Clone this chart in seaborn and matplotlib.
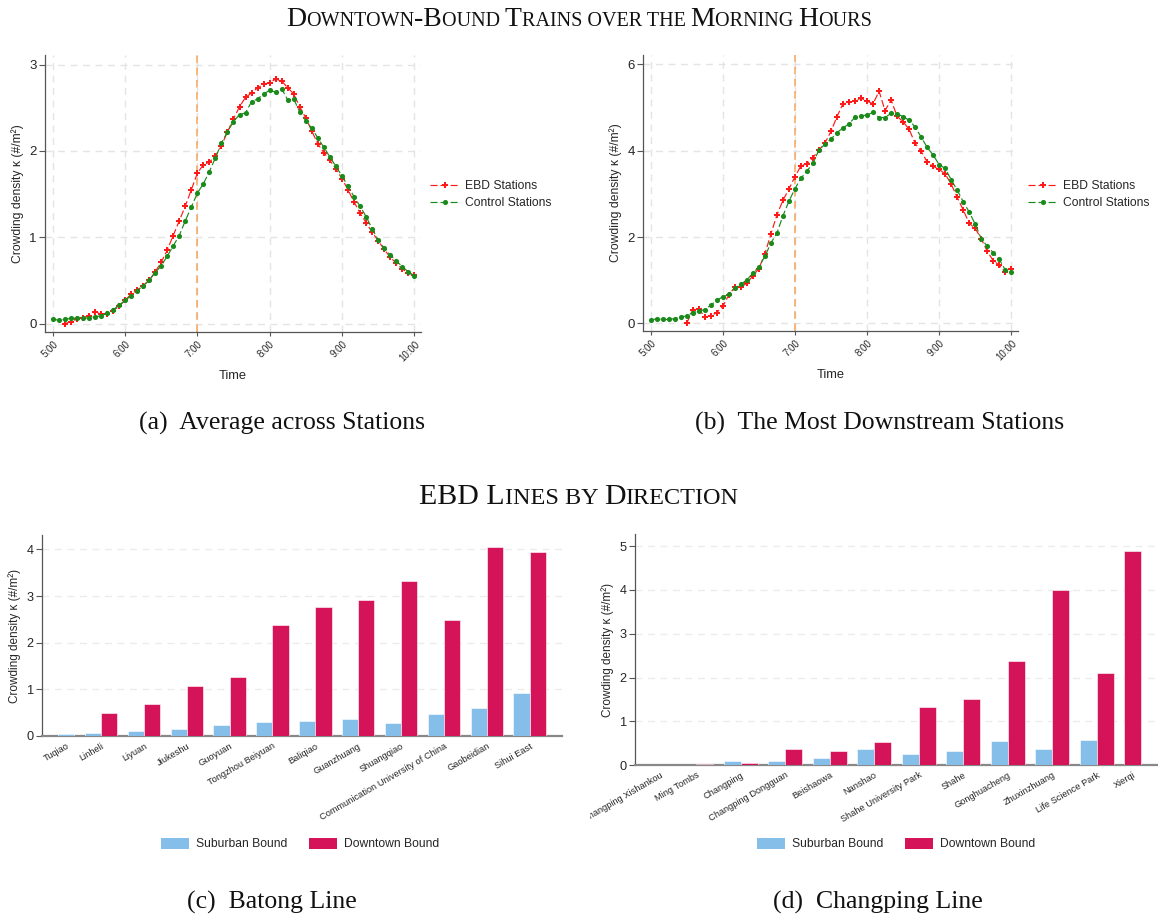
import numpy as np
import pandas as pd
import matplotlib
matplotlib.use("Agg")
import matplotlib.pyplot as plt
import seaborn as sns
from matplotlib.offsetbox import TextArea, HPacker, AnchoredOffsetbox
from matplotlib.lines import Line2D
from matplotlib.patches import Patch
from matplotlib.transforms import Bbox, TransformedBbox

nan = np.nan

# ---------------- data ----------------
minutes = list(range(0, 301, 5))          # minutes after 5:00
time_ticks = [0, 60, 120, 180, 240, 300]
time_labels = ["5:00", "6:00", "7:00", "8:00", "9:00", "10:00"]
treat_minute = 120                        # 7:00

avg_ebd = [nan, nan, 0.00, 0.02, 0.05, 0.07, 0.09, 0.14, 0.11, 0.11, 0.15, 0.20,
           0.27, 0.34, 0.39, 0.44, 0.50, 0.60, 0.71, 0.85, 1.02, 1.19, 1.36, 1.55,
           1.74, 1.84, 1.87, 1.94, 2.06, 2.22, 2.37, 2.51, 2.62, 2.67, 2.73, 2.77,
           2.79, 2.83, 2.81, 2.73, 2.66, 2.51, 2.38, 2.23, 2.08, 1.98, 1.89, 1.79,
           1.68, 1.55, 1.41, 1.28, 1.17, 1.06, 0.96, 0.86, 0.77, 0.70, 0.63, 0.59,
           0.56]
avg_control = [0.05, 0.04, 0.05, 0.06, 0.065, 0.065, 0.065, 0.08, 0.09, 0.12, 0.16, 0.21,
               0.27, 0.32, 0.38, 0.44, 0.50, 0.59, 0.67, 0.78, 0.90, 1.02, 1.19, 1.35,
               1.51, 1.62, 1.76, 1.92, 2.09, 2.22, 2.34, 2.42, 2.44, 2.57, 2.60, 2.66,
               2.70, 2.68, 2.72, 2.59, 2.60, 2.45, 2.35, 2.26, 2.15, 2.04, 1.93, 1.82,
               1.71, 1.59, 1.47, 1.36, 1.24, 1.10, 0.97, 0.87, 0.80, 0.73, 0.66, 0.60,
               0.55]
down_ebd = [nan, nan, nan, nan, nan, nan, 0.00, 0.32, 0.33, 0.15, 0.17, 0.25,
            0.39, 0.66, 0.84, 0.84, 0.93, 1.10, 1.27, 1.61, 2.07, 2.51, 2.85, 3.11,
            3.40, 3.65, 3.70, 3.84, 4.02, 4.18, 4.45, 4.79, 5.09, 5.12, 5.16, 5.22,
            5.15, 5.09, 5.38, 4.93, 5.18, 4.80, 4.67, 4.50, 4.17, 3.99, 3.74, 3.64,
            3.57, 3.46, 3.23, 2.92, 2.63, 2.32, 2.20, 1.96, 1.67, 1.45, 1.35, 1.18,
            1.25]
down_control = [0.07, 0.11, 0.09, 0.09, 0.11, 0.15, 0.17, 0.25, 0.28, 0.32, 0.42, 0.54,
                0.61, 0.67, 0.81, 0.90, 1.01, 1.16, 1.31, 1.55, 1.86, 2.09, 2.49, 2.83,
                3.12, 3.36, 3.53, 3.71, 4.02, 4.15, 4.27, 4.42, 4.53, 4.62, 4.78, 4.81,
                4.83, 4.89, 4.77, 4.77, 4.87, 4.86, 4.79, 4.71, 4.55, 4.32, 4.08, 3.90,
                3.68, 3.59, 3.33, 3.09, 2.82, 2.58, 2.30, 1.96, 1.79, 1.64, 1.48, 1.24,
                1.18]

# None = no trains in that direction at the terminal station (no bar drawn)
batong_stations = ["Tuqiao", "Linheli", "Liyuan", "Jiukeshu", "Guoyuan", "Tongzhou Beiyuan",
                   "Baliqiao", "Guanzhuang", "Shuangqiao", "Communication University of China",
                   "Gaobeidian", "Sihui East"]
batong_suburban = [0.04, 0.06, 0.10, 0.14, 0.23, 0.31, 0.32, 0.36, 0.28, 0.47, 0.61, 0.92]
batong_downtown = [None, 0.50, 0.69, 1.08, 1.27, 2.39, 2.77, 2.92, 3.33, 2.49, 4.06, 3.95]

changping_stations = ["Changping Xishankou", "Ming Tombs", "Changping", "Changping Dongguan",
                      "Beishaowa", "Nanshao", "Shahe University Park", "Shahe", "Gonghuacheng",
                      "Zhuxinzhuang", "Life Science Park", "Xierqi"]
changping_suburban = [0.01, 0.01, 0.10, 0.10, 0.15, 0.36, 0.25, 0.33, 0.56, 0.37, 0.57, None]
changping_downtown = [None, 0.02, 0.05, 0.36, 0.33, 0.53, 1.32, 1.52, 2.38, 4.01, 2.11, 4.89]

series_names = ["EBD Stations", "Control Stations"]
bound_names = ["Suburban Bound", "Downtown Bound"]

# ---------------- style ----------------
sns.set_theme(style="white")
plt.rcParams["font.family"] = ["Liberation Sans", "DejaVu Sans"]
SERIF = ["Liberation Serif", "DejaVu Serif"]
RED, GREEN, VLINE = "#ff1a1a", "#1a8a1a", "#f5a55a"
BLUE, CRIMSON = "#85bfe9", "#d51358"
SPINE = "#555555"
GRID = "#e4e4e4"
YLABEL = "Crowding density κ (#/m²)"

fig = plt.figure(figsize=(11.58, 9.18), dpi=100)
W, H = 1158, 918


def add_axes_px(left, top, right, bottom):
    return fig.add_axes([left / W, 1 - bottom / H, (right - left) / W, (bottom - top) / H])


def line_panel(ax, ebd, ctrl, ylim, yticks):
    df = pd.DataFrame({
        "minute": minutes * 2,
        "k": list(ebd) + list(ctrl),
        "group": [series_names[0]] * len(minutes) + [series_names[1]] * len(minutes),
    }).dropna()
    ax.axvline(treat_minute, color=VLINE, lw=1.1, ls=(0, (5, 3)), zorder=1)
    sns.lineplot(data=df, x="minute", y="k", hue="group", style="group",
                 hue_order=series_names, style_order=series_names,
                 palette={series_names[0]: RED, series_names[1]: GREEN},
                 markers={series_names[0]: "P", series_names[1]: "o"},
                 dashes={series_names[0]: (6, 2.5), series_names[1]: (6, 2.5)},
                 markersize=3.7, markeredgewidth=0, linewidth=0.85,
                 ax=ax, legend=False, zorder=3)
    ax.set_xlim(-6.4, 305.6)
    ax.set_ylim(*ylim)
    ax.set_xticks(time_ticks)
    ax.set_xticklabels(time_labels, rotation=45, ha="right", rotation_mode="anchor", fontsize=7)
    ax.set_yticks(yticks)
    ax.tick_params(axis="y", labelsize=9.5, length=4, width=0.8, color=SPINE, left=True, pad=2)
    ax.tick_params(axis="x", length=3, width=0.8, color=SPINE, bottom=True, pad=2)
    ax.grid(True, ls=(0, (5, 4)), color=GRID, lw=1)
    for s in ["top", "right"]:
        ax.spines[s].set_visible(False)
    for s in ["left", "bottom"]:
        ax.spines[s].set_color(SPINE)
        ax.spines[s].set_linewidth(0.9)
    ax.set_xlabel("Time", fontsize=9.3, labelpad=5)
    ax.set_ylabel(YLABEL, fontsize=8.7, labelpad=4)
    handles = [Line2D([], [], color=RED, ls=(0, (6, 2.5)), lw=0.85, marker="P", ms=3.7, mew=0),
               Line2D([], [], color=GREEN, ls=(0, (6, 2.5)), lw=0.85, marker="o", ms=3.7, mew=0)]
    return handles


GAP, MARGIN = 0.65, 1.0   # in bar widths: gap between station groups, outer margin


def bar_panel(ax, stations, sub, down, ylim, yticks):
    # groups hold only the bars that exist (terminal stations have one direction)
    rows, centers = [], []
    x = MARGIN
    for st, s, d in zip(stations, sub, down):
        start = x
        for b, v in zip(bound_names, (s, d)):
            if v is None:
                continue
            rows.append({"pos": x + 0.5, "k": v, "bound": b})
            x += 1
        centers.append((start + x) / 2)
        x += GAP
    total = x - GAP + MARGIN
    df = pd.DataFrame(rows)
    sns.barplot(data=df, x="pos", y="k", hue="bound", hue_order=bound_names,
                palette={bound_names[0]: BLUE, bound_names[1]: CRIMSON},
                native_scale=True, dodge=False, ax=ax, width=1.0, saturation=1,
                legend=False, edgecolor="white", linewidth=0.4, zorder=3)
    ax.set_xlim(0, total)
    ax.set_ylim(*ylim)
    ax.set_yticks(yticks)
    ax.yaxis.grid(True, ls=(0, (5, 4)), color="#ececec", lw=1)
    ax.xaxis.grid(False)
    ax.set_axisbelow(True)
    for s in ["top", "right"]:
        ax.spines[s].set_visible(False)
    ax.spines["left"].set_color(SPINE)
    ax.spines["left"].set_linewidth(0.9)
    ax.spines["bottom"].set_color("#888888")
    ax.spines["bottom"].set_linewidth(1.6)
    ax.set_xticks(centers)
    ax.set_xticklabels(stations, rotation=30, ha="right", rotation_mode="anchor", fontsize=6.7)
    ax.tick_params(axis="x", length=0, pad=4)
    ax.tick_params(axis="y", labelsize=9.2, length=4, width=0.8, color=SPINE, left=True, pad=2)
    ax.set_xlabel("")
    ax.set_ylabel(YLABEL, fontsize=8.5, labelpad=4)


# ---------------- top panels ----------------
ax_a = add_axes_px(45, 55, 421, 332)
h = line_panel(ax_a, avg_ebd, avg_control, (-0.097, 3.11), [0, 1, 2, 3])
ax_b = add_axes_px(643, 55, 1018, 331)
line_panel(ax_b, down_ebd, down_control, (-0.178, 6.22), [0, 2, 4, 6])

for x0 in (430, 1028):
    fig.legend(h, series_names, loc="center left", bbox_to_anchor=(x0 / W, 1 - 194.5 / H),
               frameon=False, fontsize=8.7, handlelength=2.4, handletextpad=0.5,
               labelspacing=0.45, borderpad=0, borderaxespad=0)

# ---------------- bottom panels ----------------
ax_c = add_axes_px(42, 535, 562, 736)
bar_panel(ax_c, batong_stations, batong_suburban, batong_downtown, (0, 4.31), [0, 1, 2, 3, 4])
ax_d = add_axes_px(635, 534, 1158, 765)
bar_panel(ax_d, changping_stations, changping_suburban, changping_downtown, (0, 5.28),
          [0, 1, 2, 3, 4, 5])

clipbox = TransformedBbox(Bbox([[590 / W, 0], [1, 1]]), fig.transFigure)
for lab in ax_d.get_xticklabels():
    lab.set_clip_box(clipbox)
    lab.set_clip_on(True)

bh = [Patch(facecolor=BLUE, edgecolor="none"), Patch(facecolor=CRIMSON, edgecolor="none")]
for xc in (300, 896):
    fig.legend(bh, bound_names, loc="center", bbox_to_anchor=(xc / W, 1 - 844 / H), ncol=2,
               frameon=False, fontsize=8.7, handlelength=2.3, handleheight=1.0,
               handletextpad=0.6, columnspacing=1.8, borderpad=0, borderaxespad=0)

# ---------------- titles & captions ----------------
def small_caps(text, x, y, big, small):
    runs, cur, cur_low = [], "", None
    for ch in text:
        low = ch.islower() or (ch == " " and cur_low)
        if cur_low is None or low == cur_low:
            cur += ch
        else:
            runs.append((cur, cur_low))
            cur = ch
        cur_low = low
    runs.append((cur, cur_low))
    boxes = [TextArea(t.upper() if lw else t,
                      textprops=dict(fontsize=small if lw else big, family=SERIF, color="#111111"))
             for t, lw in runs]
    pack = HPacker(children=boxes, align="baseline", pad=0, sep=0)
    ab = AnchoredOffsetbox(loc="center", child=pack, pad=0, borderpad=0, frameon=False,
                           bbox_to_anchor=(x, y), bbox_transform=fig.transFigure)
    fig.add_artist(ab)


small_caps("Downtown-Bound Trains over the Morning Hours", 0.5, 1 - 19 / H, 20, 14.5)
small_caps("EBD Lines by Direction", 0.5, 1 - 497 / H, 21.5, 17.5)

cap_kw = dict(fontsize=18.5, family=SERIF, ha="center", va="center", color="#111111")
fig.text(282 / W, 1 - 423 / H, "(a)  Average across Stations", **cap_kw)
fig.text(880 / W, 1 - 423 / H, "(b)  The Most Downstream Stations", **cap_kw)
fig.text(272 / W, 1 - 902 / H, "(c)  Batong Line", **cap_kw)
fig.text(878 / W, 1 - 902 / H, "(d)  Changping Line", **cap_kw)

fig.savefig("out.png", dpi=100)
